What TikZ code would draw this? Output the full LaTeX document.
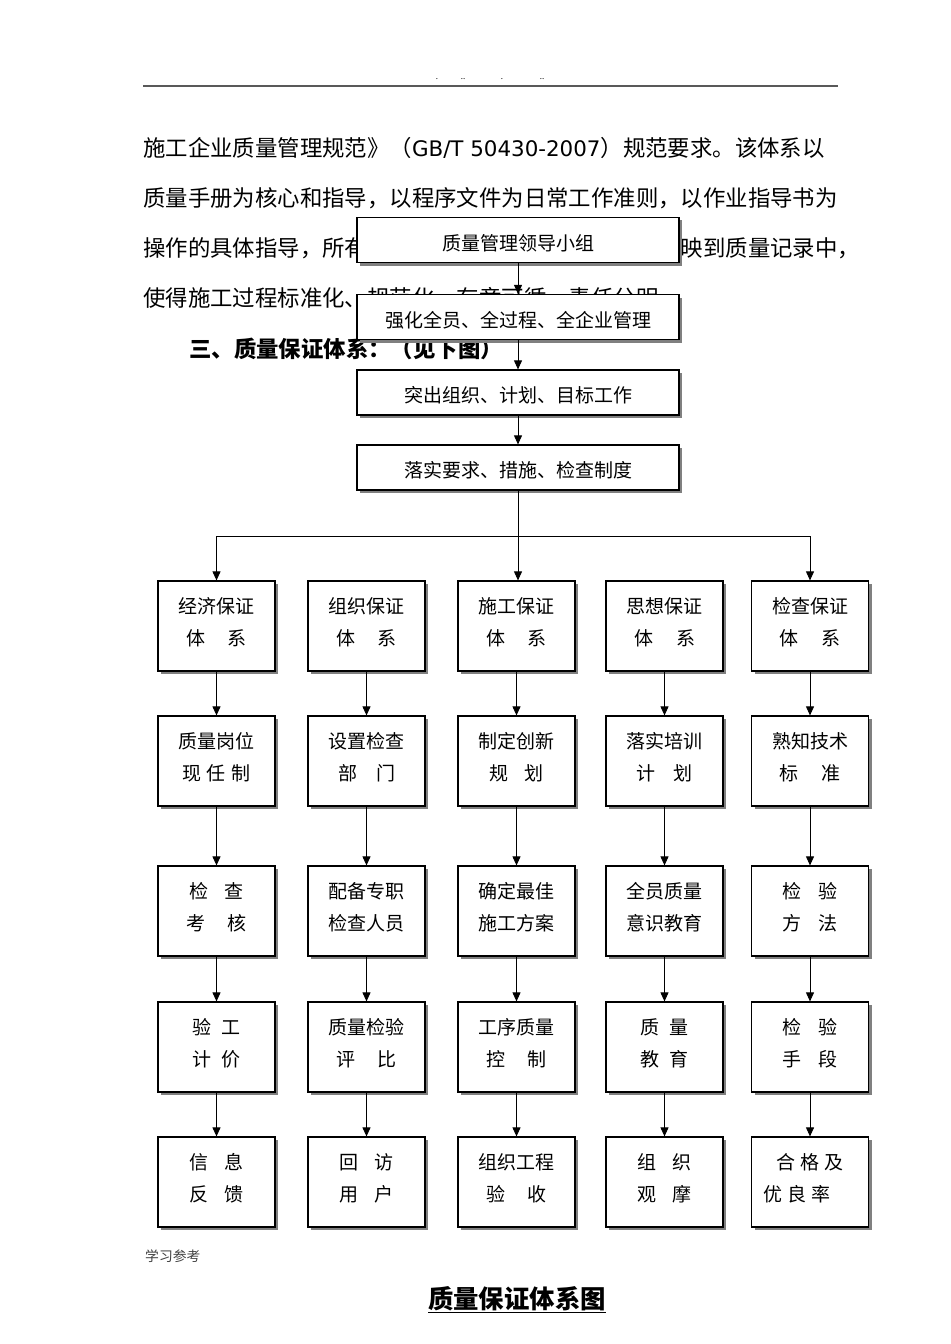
\documentclass[tikz,border=0pt]{standalone}
\usepackage{fontspec}
\setmainfont{Noto Sans CJK SC}
\newfontfamily\latinfont{DejaVu Sans}
\usetikzlibrary{arrows.meta,shadows}
\tikzset{
  box/.style={draw=black, line width=1.2bp, fill=white,
    drop shadow={shadow xshift=3bp,shadow yshift=-3bp,fill=black!50,opacity=1},
    inner sep=0pt, font=\fontsize{19bp}{32bp}\selectfont, align=center},
  topbox/.style={box, minimum width=322bp, minimum height=45bp, text height=20.4bp, text depth=0bp},
  smallbox/.style={box, minimum width=117bp, minimum height=90bp, text height=38.4bp, text depth=0bp},
  arr/.style={line width=0.9bp, -{Triangle[length=9bp,width=8bp]}},
  ln/.style={line width=0.9bp},
  para/.style={anchor=west, inner sep=0pt, font=\fontsize{22.4bp}{22.4bp}\selectfont},
  dots/.style={inner sep=0pt, font=\fontsize{8bp}{8bp}\selectfont},
}
\begin{document}
\begin{tikzpicture}[x=1bp,y=-1bp]
\useasboundingbox[fill=white] (0,0) rectangle (950,1344);
% header
\draw[line width=2bp, black!65] (143,86) -- (838,86);
\node[dots] (d1) at (437,79) {.};
\node[dots] (d2) at (463,79) {..};
\node[dots] (d3) at (502,79) {.};
\node[dots] (d4) at (542,79) {..};
% paragraph
\node[para] (p1) at (143,148) {施工企业质量管理规范》（{\latinfont\fontsize{21.4bp}{22bp}\selectfont GB/T 50430-2007}）规范要求。该体系以};
\node[para] (p2) at (143,198) {质量手册为核心和指导，以程序文件为日常工作准则，以作业指导书为};
\node[para] (p3a) at (143,248) {操作的具体指导，所有};
\node[para] (p3b) at (680.6,248) {映到质量记录中，};
\node[para] (p4) at (143,298) {使得施工过程标准化、规范化、有章可循、责任分明};
\node[para, font=\fontsize{22.4bp}{22.4bp}\selectfont\bfseries] (h3) at (189,349) {三、质量保证体系：（见下图）};
% top chain
\node[topbox] (b1) at (518,240) {质量管理领导小组};
\node[topbox] (b2) at (518,317) {强化全员、全过程、全企业管理};
\node[topbox] (b3) at (518,392.5) {突出组织、计划、目标工作};
\node[topbox] (b4) at (518,467.5) {落实要求、措施、检查制度};
% grid
\node[smallbox] (r1c1) at (216.5,626) {经济保证\\体\hspace{23bp}系};
\node[smallbox] (r1c2) at (366.5,626) {组织保证\\体\hspace{23bp}系};
\node[smallbox] (r1c3) at (516.5,626) {施工保证\\体\hspace{23bp}系};
\node[smallbox] (r1c4) at (664.5,626) {思想保证\\体\hspace{23bp}系};
\node[smallbox] (r1c5) at (810,626) {检查保证\\体\hspace{23bp}系};
\node[smallbox] (r2c1) at (216.5,761) {质量岗位\\现\hspace{6bp}任\hspace{6bp}制};
\node[smallbox] (r2c2) at (366.5,761) {设置检查\\部\hspace{19bp}门};
\node[smallbox] (r2c3) at (516.5,761) {制定创新\\规\hspace{17bp}划};
\node[smallbox] (r2c4) at (664.5,761) {落实培训\\计\hspace{18bp}划};
\node[smallbox] (r2c5) at (810,761) {熟知技术\\标\hspace{23bp}准};
\node[smallbox] (r3c1) at (216.5,911) {检\hspace{17bp}查\\考\hspace{23bp}核};
\node[smallbox] (r3c2) at (366.5,911) {配备专职\\检查人员};
\node[smallbox] (r3c3) at (516.5,911) {确定最佳\\施工方案};
\node[smallbox] (r3c4) at (664.5,911) {全员质量\\意识教育};
\node[smallbox] (r3c5) at (810,911) {检\hspace{17bp}验\\方\hspace{17bp}法};
\node[smallbox] (r4c1) at (216.5,1047) {验\hspace{11bp}工\\计\hspace{11bp}价};
\node[smallbox] (r4c2) at (366.5,1047) {质量检验\\评\hspace{23bp}比};
\node[smallbox] (r4c3) at (516.5,1047) {工序质量\\控\hspace{23bp}制};
\node[smallbox] (r4c4) at (664.5,1047) {质\hspace{11bp}量\\教\hspace{11bp}育};
\node[smallbox] (r4c5) at (810,1047) {检\hspace{17bp}验\\手\hspace{17bp}段};
\node[smallbox] (r5c1) at (216.5,1182) {信\hspace{17bp}息\\反\hspace{17bp}馈};
\node[smallbox] (r5c2) at (366.5,1182) {回\hspace{17bp}访\\用\hspace{17bp}户};
\node[smallbox] (r5c3) at (516.5,1182) {组织工程\\验\hspace{23bp}收};
\node[smallbox] (r5c4) at (664.5,1182) {组\hspace{17bp}织\\观\hspace{17bp}摩};
\node[smallbox] (r5c5) at (810,1182) {合\hspace{5bp}格\hspace{5bp}及\\优\hspace{5bp}良\hspace{5bp}率\hspace*{26bp}};
% connectors top chain
\draw[arr] (b1) -- (b2);
\draw[arr] (b2) -- (b3);
\draw[arr] (b3) -- (b4);
\coordinate (busL) at (216.5,536);
\coordinate (busR) at (810,536);
\draw[arr] (b4.south) -- (b4.south |- r1c3.north);
\draw[ln] (busL) -- (busR);
\draw[arr] (busL) -- (r1c1.north);
\draw[arr] (busR) -- (r1c5.north);
% column arrows
\foreach \c in {1,...,5}{
  \draw[arr] (r1c\c) -- (r2c\c);
  \draw[arr] (r2c\c) -- (r3c\c);
  \draw[arr] (r3c\c) -- (r4c\c);
  \draw[arr] (r4c\c) -- (r5c\c);
}
% footer
\node[anchor=west, inner sep=0pt, text=black!75, font=\fontsize{13.8bp}{13.8bp}\selectfont] (foot) at (145,1256) {学习参考};
\node[inner sep=0pt, font=\fontsize{25.4bp}{25.4bp}\selectfont\bfseries] (title) at (517,1300) {\underline{质量保证体系图}};
\end{tikzpicture}
\end{document}
